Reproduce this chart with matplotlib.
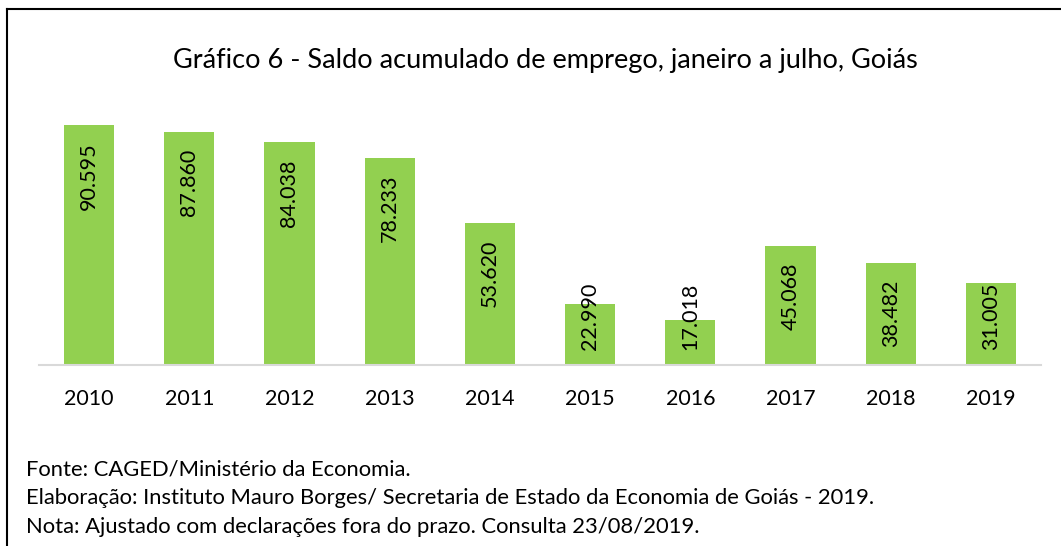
import matplotlib.pyplot as plt
from matplotlib.lines import Line2D

anos = ["2010", "2011", "2012", "2013", "2014", "2015", "2016", "2017", "2018", "2019"]
saldo = [90595, 87860, 84038, 78233, 53620, 22990, 17018, 45068, 38482, 31005]
rotulos = ["90.595", "87.860", "84.038", "78.233", "53.620", "22.990", "17.018", "45.068", "38.482", "31.005"]

titulo = "Gráfico 6 - Saldo acumulado de emprego, janeiro a julho, Goiás"
notas = [
    "Fonte: CAGED/Ministério da Economia.",
    "Elaboração: Instituto Mauro Borges/ Secretaria de Estado da Economia de Goiás - 2019.",
    "Nota: Ajustado com declarações fora do prazo. Consulta 23/08/2019.",
]

plt.rcParams["font.family"] = ["Lato", "DejaVu Sans"]

W, H = 1061, 546
fig = plt.figure(figsize=(W / 100, H / 100), dpi=100)
ax = fig.add_axes([39 / W, (H - 365) / H, 1002 / W, 265 / H])

x = range(len(anos))
ax.bar(x, saldo, width=0.5, color="#92D050", zorder=2)
ax.set_xlim(-0.5, len(anos) - 0.5)
ax.set_ylim(0, 100000)

# labels inside the bar top, but kept above the baseline
px = 100000 / 265
for i, (v, r) in enumerate(zip(saldo, rotulos)):
    topo = v - 17 * px
    if topo - 66 * px < 15 * px:
        ax.text(i, 15 * px, r, rotation=90, ha="center", va="bottom",
                fontsize=15.5, color="black", zorder=3)
    else:
        ax.text(i, topo, r, rotation=90, ha="center", va="top",
                fontsize=15.5, color="black", zorder=3)

for s in ["top", "right", "left"]:
    ax.spines[s].set_visible(False)
ax.spines["bottom"].set_color("#D9D9D9")
ax.spines["bottom"].set_linewidth(1.5)
ax.set_yticks([])
ax.set_xticks(list(x))
ax.set_xticklabels(anos, fontsize=15.5)
ax.tick_params(axis="x", length=0, pad=17)

fig.text(545 / W, 1 - 60 / H, titulo, ha="center", va="center", fontsize=19.5)

for k, n in enumerate(notas):
    fig.text(26 / W, 1 - (469 + 29 * k) / H, n, ha="left", va="center", fontsize=15.8)

# border (top and left edges visible)
fig.add_artist(Line2D([7 / W, 7 / W], [0, 1 - 9 / H], color="black", lw=1.5))
fig.add_artist(Line2D([7 / W, 1], [1 - 9 / H, 1 - 9 / H], color="black", lw=1.5))

fig.savefig("out.png", dpi=100)
